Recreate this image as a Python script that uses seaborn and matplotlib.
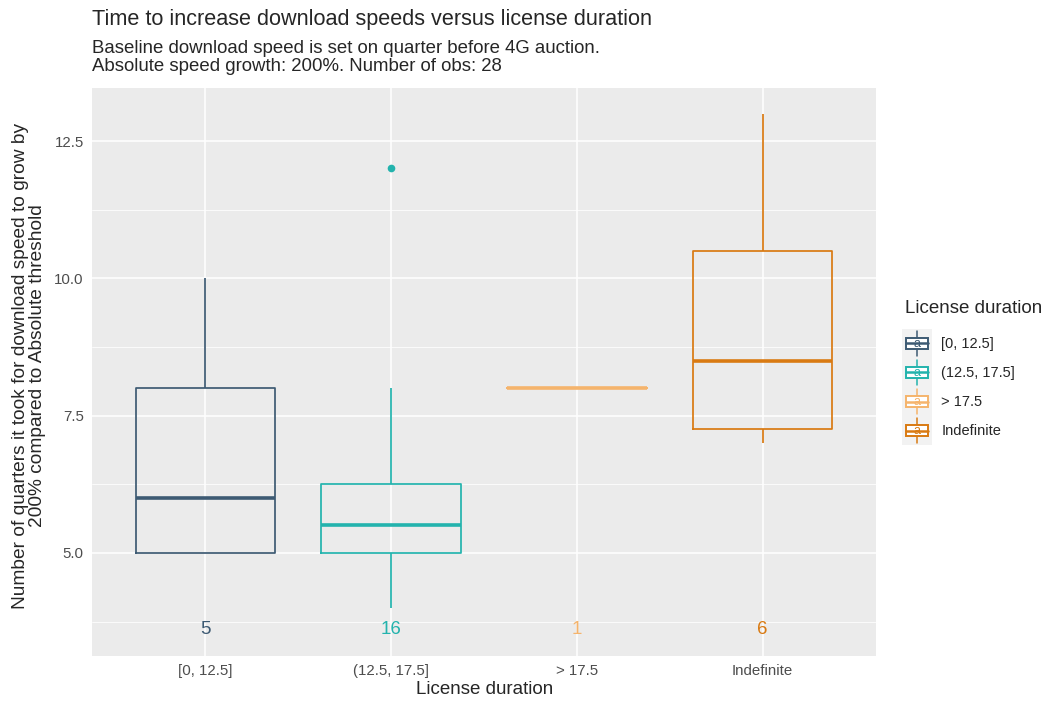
import numpy as np
import pandas as pd
import matplotlib
matplotlib.use("Agg")
import matplotlib.pyplot as plt
from matplotlib.patches import Patch, PathPatch, Rectangle
from matplotlib.lines import Line2D
from matplotlib.text import Text
from matplotlib.legend_handler import HandlerBase
from matplotlib.ticker import MultipleLocator
import seaborn as sns

# ---- data ----
categories = ["[0, 12.5]", "(12.5, 17.5]", "> 17.5", "Indefinite"]
vals_0_12 = [5, 5, 6, 8, 10]
vals_12_17 = [4, 4, 5, 5, 5, 5, 5, 5, 6, 6, 6, 6, 7, 7, 8, 12]
vals_gt17 = [8]
vals_indef = [7, 7, 7, 8, 8, 9, 9, 11, 12, 13]
counts = [5, 16, 1, 6]
colors = ["#3D5A73", "#23B3AD", "#F5B46C", "#D97A12"]
y_ticks = [5.0, 7.5, 10.0, 12.5]
count_label_y = 3.6

groups = [vals_0_12, vals_12_17, vals_gt17, vals_indef]
df = pd.DataFrame({
    "License duration": np.concatenate([[c] * len(v) for c, v in zip(categories, groups)]),
    "value": np.concatenate(groups).astype(float),
})

sns.set_theme(style="darkgrid")
plt.rcParams["font.family"] = ["Liberation Sans", "DejaVu Sans"]

W, H = 1054, 702
fig = plt.figure(figsize=(W / 100, H / 100), dpi=100)
ax = fig.add_axes([92 / W, 1 - 656 / H, (876 - 92) / W, (656 - 88) / H])
ax.set_facecolor("#EBEBEB")

sns.boxplot(data=df, x="License duration", y="value", hue="License duration",
            order=categories, hue_order=categories, palette=colors,
            fill=False, width=0.75, showcaps=False, linewidth=1.25,
            medianprops=dict(linewidth=2.6),
            flierprops=dict(marker="o", markersize=5.5, markeredgewidth=0),
            legend=False, ax=ax)

for p, c in zip([p for p in ax.patches if isinstance(p, PathPatch)], colors):
    p.set_facecolor("white")
    p.set_edgecolor(c)
    p.set_zorder(2)
for line in ax.lines:
    line.set_zorder(3)
    if line.get_marker() == "o" and len(line.get_xdata()) > 0:
        idx = int(round(float(np.mean(line.get_xdata()))))
        line.set_markerfacecolor(colors[idx])
        line.set_markeredgecolor(colors[idx])

for i, (n, c) in enumerate(zip(counts, colors)):
    ax.text(i, count_label_y, str(n), color=c, ha="center", va="center", fontsize=13.5)

ax.set_ylim(3.124, 13.465)
ax.set_xlim(-0.61, 3.61)
ax.set_yticks(y_ticks)
ax.set_yticklabels([f"{t:.1f}" for t in y_ticks])
ax.yaxis.set_minor_locator(MultipleLocator(1.25))
ax.grid(True, which="major", color="white", linewidth=1.1)
ax.grid(True, which="minor", axis="y", color="white", linewidth=0.55)
ax.set_axisbelow(True)
for s in ax.spines.values():
    s.set_visible(False)
ax.tick_params(axis="both", which="major", length=3.5, width=0.8, color="#333333",
               labelcolor="#4D4D4D", labelsize=10.8, pad=2.5)
ax.tick_params(axis="both", which="minor", length=0)
ax.set_xlabel("")
ax.set_ylabel("")

fig.text(485 / W, 1 - 689 / H, "License duration", fontsize=13.5, ha="center", va="center")
fig.text(29 / W, 1 - 366 / H,
         "Number of quarters it took for download speed to grow by\n200% compared to Absolute threshold",
         fontsize=13.8, ha="center", va="center", rotation=90, linespacing=1.02)

fig.text(92 / W, 1 - 19 / H, "Time to increase download speeds versus license duration",
         fontsize=15.6, ha="left", va="center")
fig.text(92 / W, 1 - 57.5 / H,
         "Baseline download speed is set on quarter before 4G auction.\nAbsolute speed growth: 200%. Number of obs: 28",
         fontsize=13.4, ha="left", va="center", linespacing=1.12)


class BoxKeyHandler(HandlerBase):
    def create_artists(self, legend, orig_handle, xdescent, ydescent, width, height,
                       fontsize, trans):
        c = orig_handle.get_edgecolor()
        x0, y0 = -xdescent, -ydescent
        arts = [Rectangle((x0, y0), width, height, facecolor="#F2F2F2",
                          edgecolor="none", transform=trans)]
        bx0, bx1 = x0 + 0.14 * width, x0 + 0.86 * width
        by0, by1 = y0 + 0.3 * height, y0 + 0.7 * height
        cx = x0 + 0.5 * width
        arts.append(Line2D([cx, cx], [y0 + 0.08 * height, by0], color=c, lw=1.1, transform=trans))
        arts.append(Line2D([cx, cx], [by1, y0 + 0.92 * height], color=c, lw=1.1, transform=trans))
        arts.append(Rectangle((bx0, by0), bx1 - bx0, by1 - by0, facecolor="white",
                              edgecolor=c, lw=1.4, transform=trans))
        arts.append(Line2D([bx0, bx1], [y0 + 0.5 * height] * 2, color=c, lw=1.8, transform=trans))
        arts.append(Text(cx, y0 + 0.47 * height, "a", color=c, fontsize=9,
                         ha="center", va="center", transform=trans))
        return arts


fig.text(905 / W, 1 - 308 / H, "License duration", fontsize=13.5, ha="left", va="center")
handles = [Patch(facecolor="white", edgecolor=c) for c in colors]
leg = fig.legend(handles, categories,
                 loc="upper left", bbox_to_anchor=(896 / W, 1 - 323 / H),
                 frameon=False, fontsize=10.5,
                 handlelength=2.1, handleheight=2.69, labelspacing=0.0,
                 handletextpad=0.6, borderpad=0.2, borderaxespad=0.2,
                 handler_map={Patch: BoxKeyHandler()})

fig.savefig("out.png", dpi=100)
